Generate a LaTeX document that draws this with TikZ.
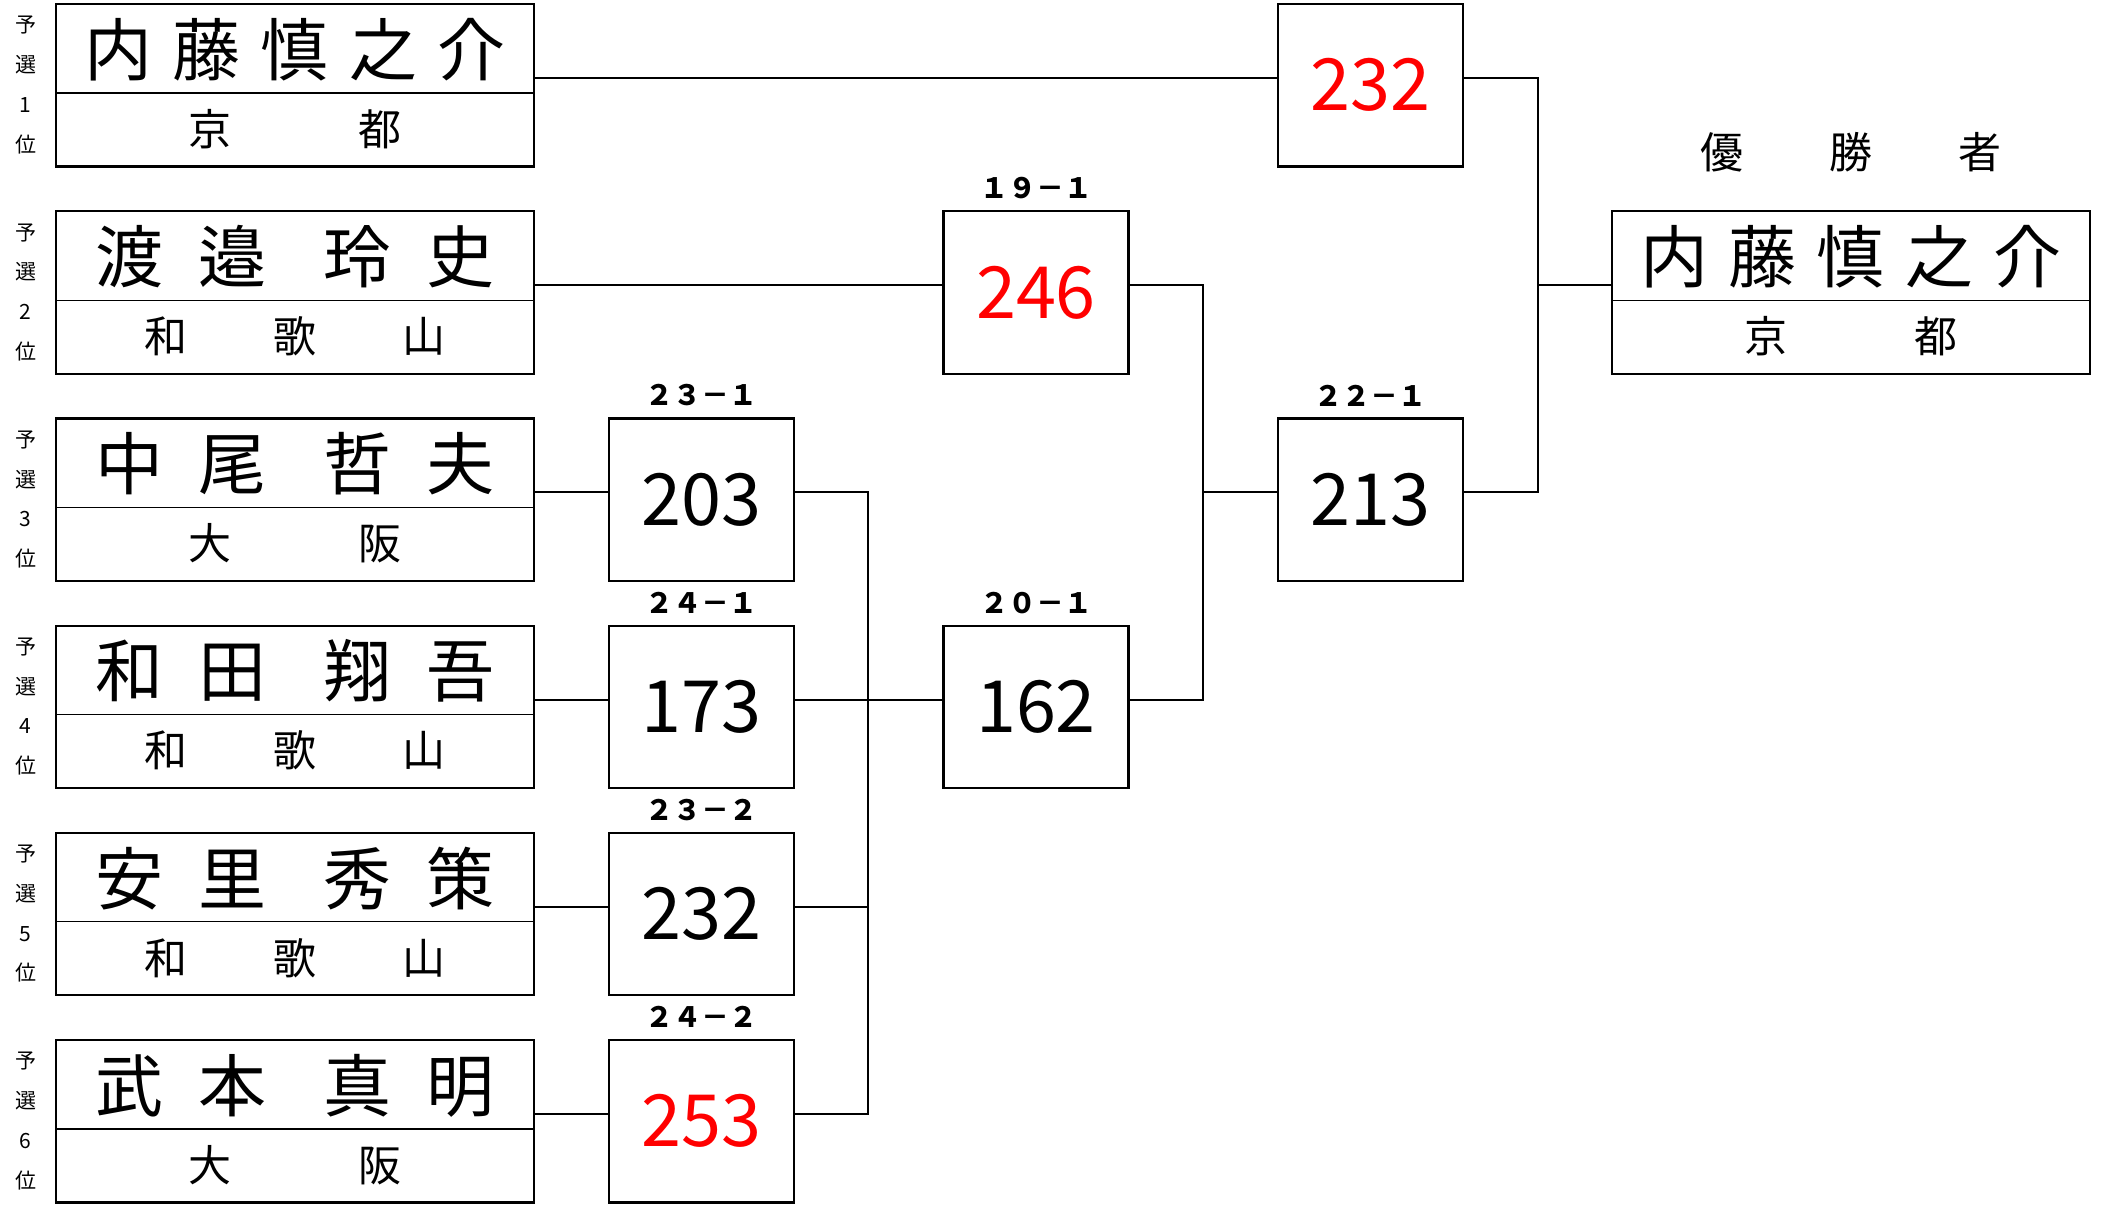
\documentclass[tikz,border=0pt]{standalone}
\usepackage{fontspec}
\setmainfont{Noto Sans CJK JP}
\usetikzlibrary{calc}
\newcommand\fivechars[5]{\makebox[88.5pt]{#1}\makebox[88.5pt]{#2}\makebox[88.5pt]{#3}\makebox[88.5pt]{#4}\makebox[88.5pt]{#5}}
\newcommand\fourchars[4]{\makebox[103pt]{#1}\makebox[103pt]{#2}\hspace{22pt}\makebox[103pt]{#3}\makebox[103pt]{#4}}
\newcommand\twochars[2]{\makebox[171pt]{#1}\makebox[171pt]{#2}}
\newcommand\threechars[3]{\makebox[129pt]{#1}\makebox[129pt]{#2}\makebox[129pt]{#3}}
\tikzset{
  namebox/.style={draw, line width=2.2pt, minimum width=478pt, minimum height=162.5pt, inner sep=0pt, outer sep=0pt, anchor=north west},
  scorebox/.style={namebox, minimum width=185pt, font=\fontsize{72}{72}\selectfont},
  redscore/.style={text=red},
  nametext/.style={inner sep=0pt, font=\fontsize{68}{68}\selectfont},
  preftext/.style={inner sep=0pt, font=\fontsize{43}{43}\selectfont},
  ranktext/.style={inner sep=0pt, align=center, font=\fontsize{21}{39.7}\selectfont},
  matchlabel/.style={inner sep=0pt, font=\bfseries\fontsize{28}{28}\selectfont},
  divline/.style={line width=1.1pt},
  link/.style={line width=2pt}
}
\begin{document}
\begin{tikzpicture}[x=1pt,y=-1pt]
\useasboundingbox (0,0) rectangle (2101,1207);
% row coordinates (connector heights)
\coordinate (y0) at (0,78);
\coordinate (y1) at (0,285.2);
\coordinate (y2) at (0,492.4);
\coordinate (y3) at (0,699.6);
\coordinate (y4) at (0,906.8);
\coordinate (y5) at (0,1114);
\coordinate (b1) at (868.3,0);
\coordinate (b2) at (1203.3,0);
\coordinate (b3) at (1538.3,0);

% name boxes
\node[namebox] (n1) at (56,4) {};
\node[namebox] (n2) at (56,211.2) {};
\node[namebox] (n3) at (56,418.4) {};
\node[namebox] (n4) at (56,625.6) {};
\node[namebox] (n5) at (56,832.8) {};
\node[namebox] (n6) at (56,1040) {};
\node[namebox] (w) at (1612,211.2) {};
\foreach \b in {n1,n2,n3,n4,n5,n6,w}{
  \draw[divline] ($(\b.north west)+(0,89)$) -- ($(\b.north east)+(0,89)$);
}

% names
\node[nametext] (t1) at ($(n1.north)+(0,45.5)$) {\fivechars{内}{藤}{慎}{之}{介}};
\node[nametext] (t2) at ($(n2.north)+(0,45.5)$) {\fourchars{渡}{邉}{玲}{史}};
\node[nametext] (t3) at ($(n3.north)+(0,45.5)$) {\fourchars{中}{尾}{哲}{夫}};
\node[nametext] (t4) at ($(n4.north)+(0,45.5)$) {\fourchars{和}{田}{翔}{吾}};
\node[nametext] (t5) at ($(n5.north)+(0,45.5)$) {\fourchars{安}{里}{秀}{策}};
\node[nametext] (t6) at ($(n6.north)+(0,45.5)$) {\fourchars{武}{本}{真}{明}};
\node[nametext] (tw) at ($(w.north)+(0,45.5)$) {\fivechars{内}{藤}{慎}{之}{介}};

% prefectures
\node[preftext] (p1) at ($(n1.north)+(0,125)$) {\twochars{京}{都}};
\node[preftext] (p2) at ($(n2.north)+(0,125)$) {\threechars{和}{歌}{山}};
\node[preftext] (p3) at ($(n3.north)+(0,125)$) {\twochars{大}{阪}};
\node[preftext] (p4) at ($(n4.north)+(0,125)$) {\threechars{和}{歌}{山}};
\node[preftext] (p5) at ($(n5.north)+(0,125)$) {\threechars{和}{歌}{山}};
\node[preftext] (p6) at ($(n6.north)+(0,125)$) {\twochars{大}{阪}};
\node[preftext] (pw) at ($(w.north)+(0,125)$) {\twochars{京}{都}};

% winner title
\node[preftext] (wl) at ($(w.north)+(0,-59)$) {\threechars{優}{勝}{者}};

% rank labels
\node[ranktext] (k1) at (25.5,85) {予\\選\\1\\位};
\node[ranktext] (k2) at (25.5,292.2) {予\\選\\2\\位};
\node[ranktext] (k3) at (25.5,499.4) {予\\選\\3\\位};
\node[ranktext] (k4) at (25.5,706.6) {予\\選\\4\\位};
\node[ranktext] (k5) at (25.5,913.8) {予\\選\\5\\位};
\node[ranktext] (k6) at (25.5,1121) {予\\選\\6\\位};

% score boxes
\node[scorebox] (m231) at (609,418.4) {203};
\node[scorebox] (m241) at (609,625.6) {173};
\node[scorebox] (m232) at (609,832.8) {232};
\node[scorebox,redscore] (m242) at (609,1040) {253};
\node[scorebox,redscore] (m191) at (943.5,211.2) {246};
\node[scorebox] (m201) at (943.5,625.6) {162};
\node[scorebox,redscore] (mtop) at (1278,4) {232};
\node[scorebox] (m221) at (1278,418.4) {213};

% match labels
\node[matchlabel] (l231) at ($(m231.north)+(0,-23)$) {２３－１};
\node[matchlabel] (l241) at ($(m241.north)+(0,-23)$) {２４－１};
\node[matchlabel] (l232) at ($(m232.north)+(0,-23)$) {２３－２};
\node[matchlabel] (l242) at ($(m242.north)+(0,-23)$) {２４－２};
\node[matchlabel] (l191) at ($(m191.north)+(0,-23)$) {１９－１};
\node[matchlabel] (l201) at ($(m201.north)+(0,-23)$) {２０－１};
\node[matchlabel] (l221) at ($(m221.north)+(0,-23)$) {２２－１};

% connectors from names
\draw[link] (n1.east |- y0) -- (mtop.west |- y0);
\draw[link] (n2.east |- y1) -- (m191.west |- y1);
\draw[link] (n3.east |- y2) -- (m231.west |- y2);
\draw[link] (n4.east |- y3) -- (m241.west |- y3);
\draw[link] (n5.east |- y4) -- (m232.west |- y4);
\draw[link] (n6.east |- y5) -- (m242.west |- y5);

% bracket 1
\draw[link] (m231.east |- y2) -| (b1 |- y5) -- (m242.east |- y5);
\draw[link] (m241.east |- y3) -- (m201.west |- y3);
\draw[link] (m232.east |- y4) -- (b1 |- y4);
% bracket 2
\draw[link] (m191.east |- y1) -| (b2 |- y3) -- (m201.east |- y3);
\draw[link] (b2 |- y2) -- (m221.west |- y2);
% bracket 3
\draw[link] (mtop.east |- y0) -| (b3 |- y2) -- (m221.east |- y2);
\draw[link] (b3 |- y1) -- (w.west |- y1);
\end{tikzpicture}
\end{document}
